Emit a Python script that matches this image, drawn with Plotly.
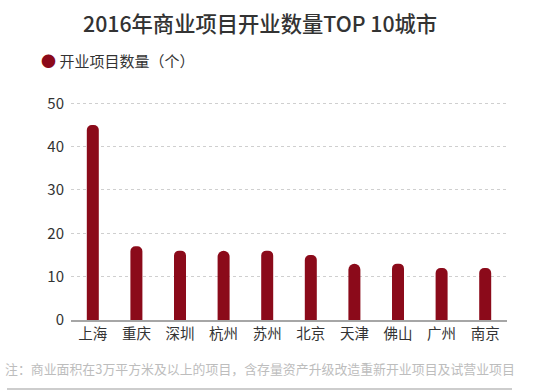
import plotly.graph_objects as go

cities = ["上海", "重庆", "深圳", "杭州", "苏州", "北京", "天津", "佛山", "广州", "南京"]
counts = [45, 17, 16, 16, 16, 15, 13, 13, 12, 12]
y_ticks = [0, 10, 20, 30, 40, 50]
title_text = "2016年商业项目开业数量TOP 10城市"
series_name = "开业项目数量（个）"
note_text = "注：商业面积在3万平方米及以上的项目，含存量资产升级改造重新开业项目及试营业项目"

FONT = "Noto Sans CJK SC, Noto Sans, sans-serif"
BAR = "#8b0a1a"

L, T, B, R = 71, 102, 71, 43
PW, PH = 550 - L - R, 391 - T - B


def px_x(x):
    return (x - L) / PW


def px_y(y):
    return (391 - B - y) / PH


fig = go.Figure()
fig.add_trace(go.Bar(
    x=cities, y=counts, name=series_name,
    marker=dict(color=BAR, cornerradius=6, line=dict(width=0)),
    showlegend=False,
))

fig.update_layout(
    width=550, height=391,
    margin=dict(l=L, r=R, t=T, b=B, autoexpand=False),
    paper_bgcolor="white", plot_bgcolor="white",
    font=dict(family=FONT, color="#333333", size=14),
    bargap=0.725,
    showlegend=False,
    xaxis=dict(showline=True, linecolor="#a6a6a6", linewidth=2, ticks="",
               showgrid=False, tickfont=dict(size=14.5, color="#333333"),
               range=[-0.5, 9.5], automargin=False),
    yaxis=dict(range=[0, 50.3], tickvals=y_ticks, showgrid=True,
               gridcolor="#cfcfcf", griddash="dot", gridwidth=1,
               zeroline=False, showline=False, ticks="",
               tickfont=dict(size=15, color="#333333"), ticklabelstandoff=6,
               automargin=False),
    annotations=[
        dict(text=title_text, xref="paper", yref="paper",
             x=px_x(260), y=px_y(22), xanchor="center", yanchor="middle",
             showarrow=False,
             font=dict(size=21.3, color="#333333", family=FONT, weight=500)),
        dict(text=f"<span style='color:{BAR}'>●</span> {series_name}",
             xref="paper", yref="paper",
             x=px_x(39), y=px_y(61), xanchor="left", yanchor="middle",
             showarrow=False, font=dict(size=15, color="#333333", family=FONT)),
        dict(text=note_text, xref="paper", yref="paper",
             x=px_x(3), y=px_y(368), xanchor="left", yanchor="middle",
             showarrow=False, font=dict(size=12.9, color="#bdbdbd", family=FONT)),
    ],
    shapes=[dict(type="line", xref="paper", yref="paper",
                 x0=px_x(7), x1=px_x(512), y0=px_y(389), y1=px_y(389),
                 line=dict(color="#bdbdbd", width=1.5))],
)

fig.write_html("out.html",
               config={"displayModeBar": False},
               post_script="document.body.style.margin='0';document.body.style.overflow='hidden';")
